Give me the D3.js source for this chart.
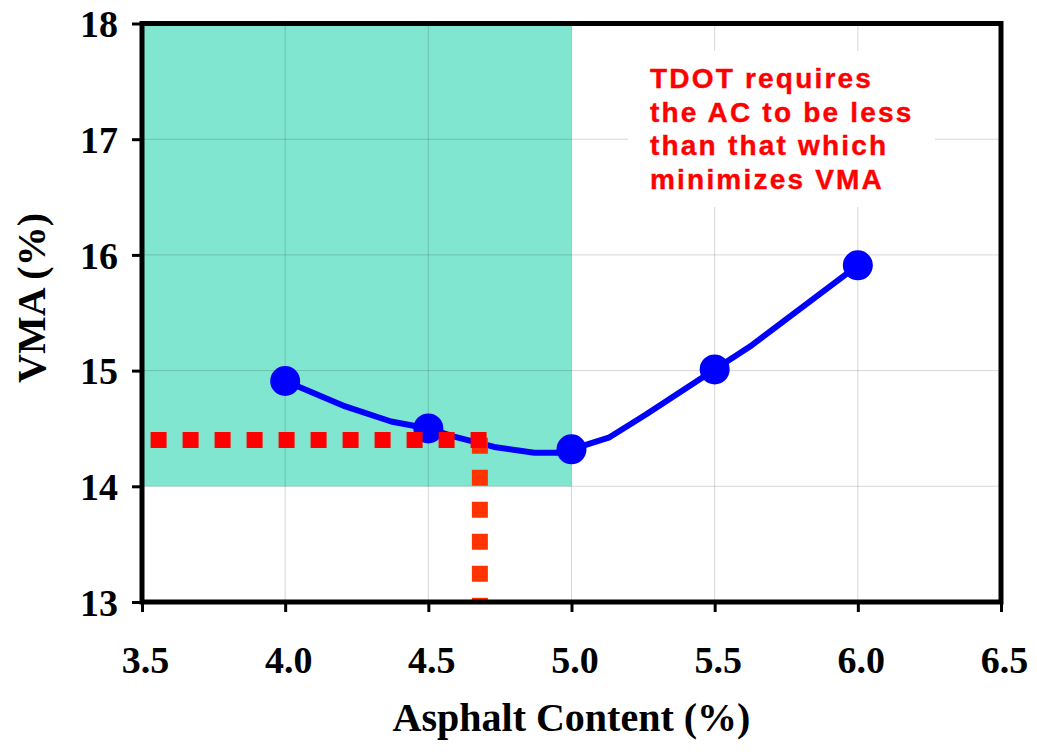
<!DOCTYPE html>
<html><head><meta charset="utf-8">
<script src="https://cdn.jsdelivr.net/npm/d3@7"></script>
<style>body{margin:0;background:#fff}</style>
</head><body>
<svg id="c" width="1037" height="752"></svg>
<script>
// Data
const acPoints = [4.0, 4.5, 5.0, 5.5, 6.0];
const vmaPoints = [14.91, 14.5, 14.32, 15.01, 15.91];
// smoothed curve vertices
const curveAC  = [4.0, 4.21, 4.37, 4.5, 4.59, 4.73, 4.87, 4.95, 5.0, 5.13, 5.26, 5.5, 5.63, 6.0];
const curveVMA = [14.91, 14.69, 14.56, 14.5, 14.43, 14.34, 14.29, 14.29, 14.32, 14.42, 14.62, 15.01, 15.22, 15.91];
const xTicks = [3.5, 4.0, 4.5, 5.0, 5.5, 6.0, 6.5];
const yTicks = [13, 14, 15, 16, 17, 18];
const zone = {ac: [3.5, 5.0], vma: [14, 18]};
const targetVMA = 14.4, targetAC = 4.68, hLineStart = 3.53, hLineEnd = 4.705, vLineTop = 14.42;
const noteLines = ["TDOT requires", "the AC to be less", "than that which", "minimizes VMA"];

const svg = d3.select("#c");
const L = 142, R = 1001, T = 23.5, B = 602;
const x = d3.scaleLinear().domain([3.5, 6.5]).range([L, R]);
const y = d3.scaleLinear().domain([13, 18]).range([B, T]);

// shaded zone
svg.append("rect").attr("x", x(zone.ac[0])).attr("y", y(zone.vma[1]))
  .attr("width", x(zone.ac[1]) - x(zone.ac[0])).attr("height", y(zone.vma[0]) - y(zone.vma[1]))
  .attr("fill", "#80E6D0");

// grid
const g = svg.append("g").attr("stroke", "#000").attr("stroke-opacity", 0.16).attr("stroke-width", 1);
xTicks.forEach(t => g.append("line").attr("x1", x(t)).attr("x2", x(t)).attr("y1", T).attr("y2", B));
yTicks.forEach(t => g.append("line").attr("y1", y(t)).attr("y2", y(t)).attr("x1", L).attr("x2", R));

// note box
svg.append("rect").attr("x", 628).attr("y", 51).attr("width", 307).attr("height", 156).attr("fill", "#fff");
const note = svg.append("text").attr("font-family", "Liberation Sans, Arial, sans-serif")
  .attr("font-weight", "bold").attr("font-size", 28).attr("fill", "#FF0000").attr("letter-spacing", 2.2)
  .attr("stroke", "#FF0000").attr("stroke-width", 0.4);
noteLines.forEach((s, i) => note.append("tspan").attr("x", 650).attr("y", 88 + i * 33.6).text(s));

// curve
const line = d3.line().x((d, i) => x(curveAC[i])).y(d => y(d));
svg.append("path").datum(curveVMA).attr("d", line).attr("fill", "none")
  .attr("stroke", "#0000FF").attr("stroke-width", 6).attr("stroke-linejoin", "round");
svg.selectAll("circle.pt").data(vmaPoints).join("circle").attr("class", "pt")
  .attr("cx", (d, i) => x(acPoints[i])).attr("cy", d => y(d)).attr("r", 15).attr("fill", "#0000FF");

// red dotted guides
svg.append("line").attr("x1", x(targetAC)).attr("x2", x(targetAC)).attr("y1", y(vLineTop)).attr("y2", B)
  .attr("stroke", "#FF3300").attr("stroke-width", 16).attr("stroke-dasharray", "16,16");
svg.append("line").attr("x1", x(hLineStart)).attr("x2", x(hLineEnd)).attr("y1", y(targetVMA)).attr("y2", y(targetVMA))
  .attr("stroke", "#FF0000").attr("stroke-width", 16).attr("stroke-dasharray", "16,16");

// axes
const xa = svg.append("g").attr("transform", `translate(0,${B})`)
  .call(d3.axisBottom(x).tickValues(xTicks).tickSize(10).tickFormat(d3.format(".1f")));
const ya = svg.append("g").attr("transform", `translate(${L},0)`)
  .call(d3.axisLeft(y).tickValues(yTicks).tickSize(10).tickFormat(d3.format("d")));
[xa, ya].forEach(a => {
  a.select(".domain").remove();
  a.selectAll(".tick line").attr("stroke", "#000").attr("stroke-width", 3);
  a.selectAll(".tick text").attr("font-family", "Liberation Serif, Times New Roman, serif")
    .attr("font-weight", "bold").attr("font-size", 38).attr("fill", "#000");
});
xa.selectAll(".tick text").attr("y", 71).attr("dy", 0).attr("dx", 3);
ya.selectAll(".tick text").attr("x", -24).attr("dy", "0.35em");

// frame
svg.append("rect").attr("x", L).attr("y", T).attr("width", R - L).attr("height", B - T)
  .attr("fill", "none").attr("stroke", "#000").attr("stroke-width", 5);

// titles
svg.append("text").attr("x", (L + R) / 2).attr("y", 731).attr("text-anchor", "middle")
  .attr("font-family", "Liberation Serif, Times New Roman, serif").attr("font-weight", "bold")
  .attr("font-size", 40).text("Asphalt Content (%)");
svg.append("text").attr("transform", "translate(45,298) rotate(-90)").attr("text-anchor", "middle")
  .attr("font-family", "Liberation Serif, Times New Roman, serif").attr("font-weight", "bold")
  .attr("font-size", 40).text("VMA (%)");
</script>
</body></html>
